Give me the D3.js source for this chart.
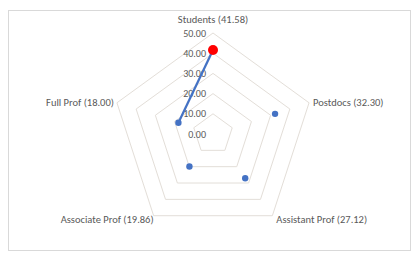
<!DOCTYPE html>
<html>
<head>
<meta charset="utf-8">
<script src="https://cdn.jsdelivr.net/npm/d3@7"></script>
<style>
  body { margin: 0; background: #fff; }
  text { font-family: Calibri, Carlito, "Liberation Sans", sans-serif; fill: #595959; }
</style>
</head>
<body>
<svg width="413" height="256"></svg>
<script>
let categories = ['Students', 'Postdocs', 'Assistant Prof', 'Associate Prof', 'Full Prof'];
let values = [41.58, 32.30, 27.12, 19.86, 18.00];
let tickValues = [0, 10, 20, 30, 40, 50];
// the only drawn segment in the picture: Students -> Full Prof
let lineSegment = [0, 4];

let svg = d3.select('svg');
let cx = 213, cy = 134;
let r = d3.scaleLinear().domain([0, 50]).range([0, 101]);
let angle = i => i * 2 * Math.PI / categories.length;
let pos = (i, v) => [cx + r(v) * Math.sin(angle(i)), cy - r(v) * Math.cos(angle(i))];

svg.append('rect')
    .attr('x', 8.5).attr('y', 10.5)
    .attr('width', 402).attr('height', 240)
    .attr('fill', 'none')
    .attr('stroke', '#d9d9d9');

// grid rings
svg.append('g').selectAll('path')
    .data(tickValues.slice(1))
    .enter()
    .append('path')
    .attr('d', t => d3.line()(categories.map((c, i) => pos(i, t))) + 'Z')
    .attr('fill', 'none')
    .attr('stroke', '#e3ded8')
    .attr('stroke-width', 1);

// tick labels along the top axis
svg.append('g').selectAll('text')
    .data(tickValues)
    .enter()
    .append('text')
    .attr('x', cx - 7)
    .attr('y', t => pos(0, t)[1])
    .attr('dy', '0.35em')
    .attr('text-anchor', 'end')
    .attr('font-size', 10)
    .text(t => t.toFixed(2));

// category labels
let labelPos = [
    {dx: 0, dy: -14, anchor: 'middle'},
    {dx: 4, dy: 0, anchor: 'start'},
    {dx: 4, dy: 4, anchor: 'start'},
    {dx: 0, dy: 4, anchor: 'end'},
    {dx: -3, dy: 0, anchor: 'end'}
];
svg.append('g').selectAll('text')
    .data(categories)
    .enter()
    .append('text')
    .attr('x', (d, i) => pos(i, 50)[0] + labelPos[i].dx)
    .attr('y', (d, i) => pos(i, 50)[1] + labelPos[i].dy)
    .attr('dy', '0.35em')
    .attr('text-anchor', (d, i) => labelPos[i].anchor)
    .attr('font-size', 10.5)
    .text((d, i) => `${d} (${values[i].toFixed(2)})`);

svg.append('path')
    .attr('d', d3.line()(lineSegment.map(i => pos(i, values[i]))))
    .attr('fill', 'none')
    .attr('stroke', '#4472c4')
    .attr('stroke-width', 2.25);

svg.append('g').selectAll('circle')
    .data(values)
    .enter()
    .append('circle')
    .attr('cx', (d, i) => pos(i, d)[0])
    .attr('cy', (d, i) => pos(i, d)[1])
    .attr('r', (d, i) => i === 0 ? 5 : 3.2)
    .attr('fill', (d, i) => i === 0 ? '#ff0000' : '#4472c4');
</script>
</body>
</html>
